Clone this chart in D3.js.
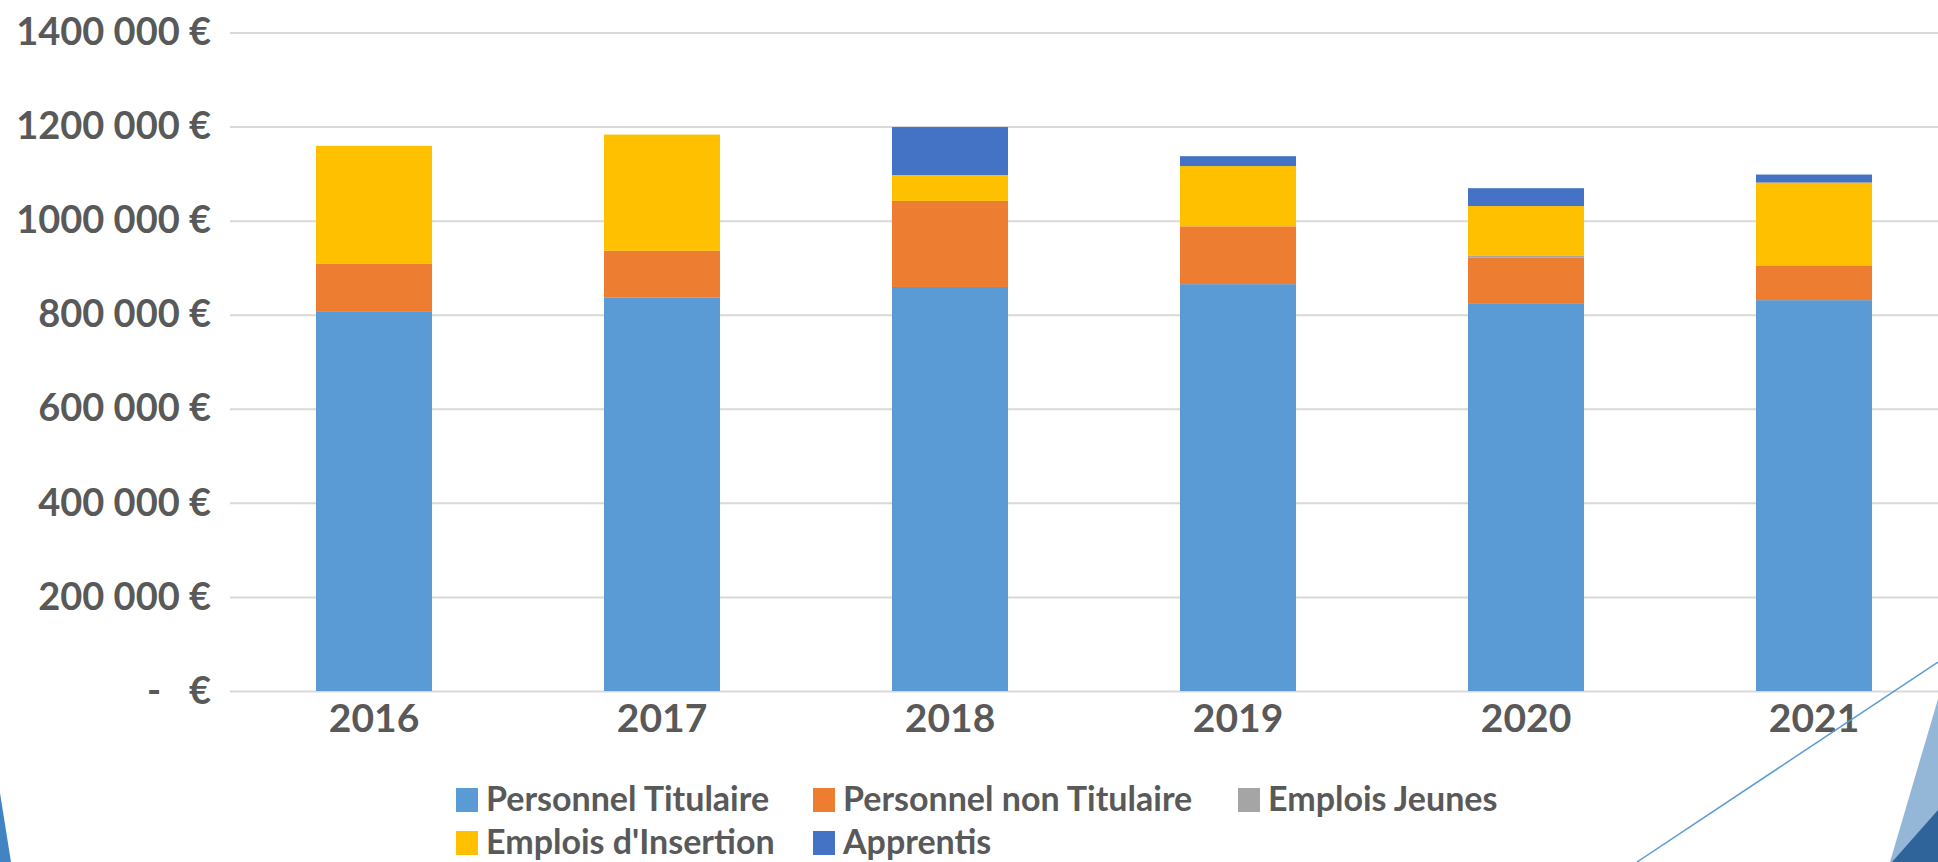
<!DOCTYPE html>
<html>
<head>
<meta charset="utf-8">
<script src="https://cdnjs.cloudflare.com/ajax/libs/d3/7.8.5/d3.min.js"></script>
<style>
  html, body { margin: 0; padding: 0; background: #ffffff; overflow: hidden; }
  text { font-family: Lato, "Open Sans", sans-serif; font-weight: 700; fill: #595959; }
</style>
</head>
<body>
<div id="chart"></div>
<script>
// chart data
var years = ["2016", "2017", "2018", "2019", "2020", "2021"];
var titulaire = [806000, 836000, 859000, 865000, 823000, 831000];
var nonTitulaire = [102000, 100000, 183000, 123000, 99000, 74000];
var emploisJeunes = [0, 0, 0, 0, 3000, 0];
var insertion = [251000, 247000, 55000, 128000, 106000, 176000];
var apprentis = [0, 0, 102000, 21000, 38000, 17000];

var seriesNames = ["Personnel Titulaire", "Personnel non Titulaire", "Emplois Jeunes", "Emplois d'Insertion", "Apprentis"];
var seriesColors = ["#5b9bd5", "#ed7d31", "#a5a5a5", "#ffc000", "#4472c4"];
var yTicks = [0, 200000, 400000, 600000, 800000, 1000000, 1200000, 1400000];

var svgWidth = 1938;
var svgHeight = 862;

var margins = { top: 32.5, left: 230, right: -20, bottom: 171 };
var width = svgWidth - margins.left - margins.right;
var height = svgHeight - margins.top - margins.bottom;

var svg = d3.select("#chart").append("svg")
    .attr("width", svgWidth)
    .attr("height", svgHeight);

// decorative shapes of the slide
svg.append("polygon").attr("points", "0,793 11,862 0,862").attr("fill", "#4283c4");
svg.append("polygon").attr("points", "1938,699 1890,862 1938,862").attr("fill", "#95b7d7");
svg.append("polygon").attr("points", "1938,810 1892,862 1938,862").attr("fill", "#2e6499");

var chartGroup = svg.append("g").attr("transform", `translate(${margins.left},${margins.top})`);

// build table for the stack
var table = years.map(function(yr, i) {
    var row = { year: yr };
    row[seriesNames[0]] = titulaire[i];
    row[seriesNames[1]] = nonTitulaire[i];
    row[seriesNames[2]] = emploisJeunes[i];
    row[seriesNames[3]] = insertion[i];
    row[seriesNames[4]] = apprentis[i];
    return row;
});

var stacked = d3.stack().keys(seriesNames)(table);

var xScale = d3.scaleBand()
    .domain(years)
    .range([0, width])
    .paddingInner(0.597)
    .paddingOuter(0.2985);

var yScale = d3.scaleLinear()
    .domain([0, 1400000])
    .range([height, 0]);

function euro(v) {
    if (v === 0) return "-\u00a0\u00a0\u00a0€";
    return (v / 1000) + " 000 €";
}

// y axis + gridlines
var yAxis = chartGroup.append("g")
    .call(d3.axisLeft(yScale).tickValues(yTicks).tickSize(-(width)).tickPadding(19).tickFormat(euro));
yAxis.select(".domain").remove();
yAxis.selectAll("line").attr("stroke", "#d9d9d9").attr("stroke-width", 2);
yAxis.selectAll("text").style("font-size", "38px").attr("fill", "#595959");

// x axis
var xAxis = chartGroup.append("g")
    .attr("transform", `translate(0, ${height})`)
    .call(d3.axisBottom(xScale).tickSize(0).tickPadding(13));
xAxis.select(".domain").remove();
xAxis.selectAll("text").style("font-size", "39px").attr("fill", "#595959");

// bars
chartGroup.selectAll(".layer")
    .data(stacked)
    .enter()
    .append("g")
    .attr("class", "layer")
    .attr("fill", (d, i) => seriesColors[i])
    .selectAll("rect")
    .data(d => d)
    .enter()
    .append("rect")
    .attr("x", d => xScale(d.data.year))
    .attr("width", xScale.bandwidth())
    .attr("y", d => yScale(d[1]))
    .attr("height", d => yScale(d[0]) - yScale(d[1]));

// thin diagonal line over the chart
svg.append("line")
    .attr("x1", 1637).attr("y1", 862)
    .attr("x2", 1938).attr("y2", 662)
    .attr("stroke", "#5b9bd5")
    .attr("stroke-width", 1.5);

// legend
var legendCols = [456, 813, 1238];
var legendRows = [800, 843];
var legend = svg.append("g");
seriesNames.forEach(function(name, i) {
    var col = i % 3;
    var row = Math.floor(i / 3);
    var item = legend.append("g")
        .attr("transform", `translate(${legendCols[col]}, ${legendRows[row]})`);
    item.append("rect")
        .attr("x", 0).attr("y", -12)
        .attr("width", 22).attr("height", 24)
        .attr("fill", seriesColors[i]);
    item.append("text")
        .attr("x", 30).attr("y", 11)
        .style("font-size", "34px")
        .text(name);
});
</script>
</body>
</html>
